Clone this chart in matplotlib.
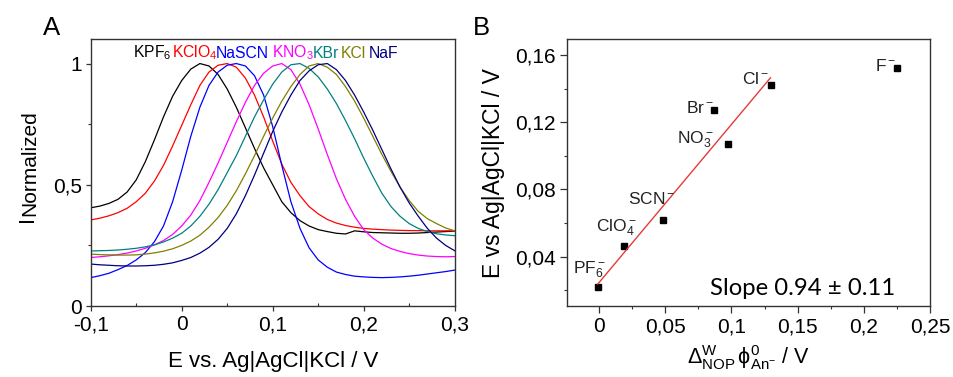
import numpy as np
import matplotlib
matplotlib.use('Agg')
import matplotlib.pyplot as plt
from matplotlib.ticker import FixedLocator, FixedFormatter

plt.rcParams['font.family'] = ['Liberation Sans', 'DejaVu Sans']
plt.rcParams['mathtext.fontset'] = 'custom'
plt.rcParams['mathtext.rm'] = 'Liberation Sans'
plt.rcParams['mathtext.it'] = 'Liberation Sans:italic'
plt.rcParams['mathtext.bf'] = 'Liberation Sans:bold'

# ---------------- Panel A data ----------------
E_V = [-0.10, -0.09, -0.08, -0.07, -0.06, -0.05, -0.04, -0.03, -0.02, -0.01,
       0.00, 0.01, 0.02, 0.03, 0.04, 0.05, 0.06, 0.07, 0.08, 0.09,
       0.10, 0.11, 0.12, 0.13, 0.14, 0.15, 0.16, 0.17, 0.18, 0.19,
       0.20, 0.21, 0.22, 0.23, 0.24, 0.25, 0.26, 0.27, 0.28, 0.29, 0.30]

I_KPF6 = [0.405, 0.412, 0.423, 0.440, 0.470, 0.520, 0.595, 0.685, 0.780, 0.865,
          0.930, 0.977, 1.000, 0.990, 0.955, 0.895, 0.820, 0.735, 0.650, 0.570,
          0.500, 0.430, 0.385, 0.352, 0.330, 0.315, 0.307, 0.300, 0.297, 0.310,
          0.306, 0.303, 0.302, 0.301, 0.300, 0.300, 0.301, 0.303, 0.305, 0.307, 0.309]
I_KClO4 = [0.355, 0.362, 0.372, 0.385, 0.403, 0.430, 0.465, 0.515, 0.580, 0.660,
           0.745, 0.830, 0.910, 0.965, 0.993, 1.000, 0.985, 0.940, 0.870, 0.780,
           0.680, 0.585, 0.510, 0.455, 0.410, 0.380, 0.357, 0.342, 0.332, 0.325,
           0.320, 0.317, 0.315, 0.313, 0.312, 0.311, 0.311, 0.310, 0.310, 0.310, 0.310]
I_NaSCN = [0.117, 0.125, 0.135, 0.150, 0.167, 0.190, 0.220, 0.265, 0.330, 0.430,
           0.560, 0.700, 0.820, 0.910, 0.965, 0.993, 1.000, 0.990, 0.950, 0.870,
           0.740, 0.580, 0.430, 0.320, 0.240, 0.190, 0.160, 0.140, 0.130, 0.123,
           0.120, 0.118, 0.117, 0.118, 0.120, 0.123, 0.127, 0.132, 0.137, 0.142, 0.148]
I_KNO3 = [0.200, 0.203, 0.207, 0.212, 0.218, 0.227, 0.238, 0.252, 0.270, 0.295,
          0.330, 0.375, 0.435, 0.510, 0.590, 0.675, 0.760, 0.840, 0.910, 0.960,
          0.990, 1.000, 0.975, 0.915, 0.830, 0.730, 0.625, 0.525, 0.440, 0.370,
          0.315, 0.280, 0.255, 0.237, 0.225, 0.216, 0.210, 0.206, 0.204, 0.203, 0.204]
I_KBr = [0.227, 0.228, 0.229, 0.231, 0.234, 0.238, 0.244, 0.252, 0.264, 0.280,
         0.300, 0.330, 0.370, 0.420, 0.480, 0.550, 0.620, 0.700, 0.780, 0.850,
         0.915, 0.965, 0.995, 1.000, 0.980, 0.945, 0.895, 0.835, 0.765, 0.690,
         0.610, 0.535, 0.465, 0.410, 0.370, 0.340, 0.320, 0.307, 0.298, 0.293, 0.290]
I_KCl = [0.214, 0.212, 0.211, 0.210, 0.210, 0.211, 0.214, 0.219, 0.226, 0.236,
         0.250, 0.268, 0.292, 0.325, 0.365, 0.415, 0.475, 0.545, 0.620, 0.700,
         0.775, 0.845, 0.905, 0.955, 0.990, 1.000, 0.985, 0.955, 0.905, 0.845,
         0.775, 0.700, 0.625, 0.555, 0.490, 0.435, 0.390, 0.360, 0.340, 0.322, 0.310]
I_NaF = [0.173, 0.170, 0.168, 0.166, 0.165, 0.165, 0.166, 0.168, 0.172, 0.178,
         0.188, 0.200, 0.218, 0.242, 0.275, 0.320, 0.380, 0.455, 0.540, 0.630,
         0.720, 0.800, 0.870, 0.930, 0.970, 0.995, 1.000, 0.975, 0.930, 0.870,
         0.800, 0.725, 0.645, 0.565, 0.490, 0.425, 0.370, 0.320, 0.280, 0.250, 0.228]

salt_names = ['KPF$_6$', 'KClO$_4$', 'NaSCN', 'KNO$_3$', 'KBr', 'KCl', 'NaF']
salt_colors = ['#000000', '#ff0000', '#0000ff', '#ff00ff', '#008080', '#808000', '#000080']
salt_curves = [I_KPF6, I_KClO4, I_NaSCN, I_KNO3, I_KBr, I_KCl, I_NaF]

A_xticks = [-0.1, 0.0, 0.1, 0.2, 0.3]
A_xticklabels = ['-0,1', '0', '0,1', '0,2', '0,3']
A_yticks = [0.0, 0.5, 1.0]
A_yticklabels = ['0', '0,5', '1']

# ---------------- Panel B data ----------------
anion_labels = ['PF$_6^-$', 'ClO$_4^-$', 'SCN$^-$', 'NO$_3^-$', 'Br$^-$', 'Cl$^-$', 'F$^-$']
dphi_V = [-0.001, 0.019, 0.048, 0.097, 0.087, 0.1295, 0.2252]
Epeak_V = [0.022, 0.0465, 0.0616, 0.107, 0.127, 0.142, 0.152]
fit_slope = 0.94
fit_intercept = 0.0247
fit_n = 6  # fit uses all anions except F-

B_xticks = [0.0, 0.05, 0.1, 0.15, 0.2, 0.25]
B_xticklabels = ['0', '0,05', '0,1', '0,15', '0,2', '0,25']
B_yticks = [0.04, 0.08, 0.12, 0.16]
B_yticklabels = ['0,04', '0,08', '0,12', '0,16']

# ---------------- Figure ----------------
W, H = 954, 377
fig = plt.figure(figsize=(W / 100, H / 100), dpi=100)

def px_axes(l, t, r, b):
    return [l / W, (H - b) / H, (r - l) / W, (b - t) / H]

axA = fig.add_axes(px_axes(90.7, 39.3, 454.7, 306))
axB = fig.add_axes(px_axes(566.7, 39.3, 930, 306))

spine_col = '#333333'
for ax in (axA, axB):
    for s in ax.spines.values():
        s.set_linewidth(1.0)
        s.set_color(spine_col)

# Panel A
for y, c in zip(salt_curves, salt_colors):
    axA.plot(E_V, y, color=c, lw=0.9, solid_joinstyle='round')
axA.set_xlim(-0.1, 0.3)
axA.set_ylim(0, 1.1)
axA.xaxis.set_major_locator(FixedLocator(A_xticks))
axA.xaxis.set_major_formatter(FixedFormatter(A_xticklabels))
axA.xaxis.set_minor_locator(FixedLocator([-0.05, 0.05, 0.15, 0.25]))
axA.yaxis.set_major_locator(FixedLocator(A_yticks))
axA.yaxis.set_major_formatter(FixedFormatter(A_yticklabels))
axA.yaxis.set_minor_locator(FixedLocator([0.25, 0.75]))
axA.tick_params(which='major', direction='out', length=3.5, width=0.9, labelsize=15, pad=3, color=spine_col)
axA.tick_params(axis='x', which='minor', direction='in', length=2.5, width=0.8, color=spine_col)
axA.tick_params(axis='y', which='minor', direction='out', length=2.5, width=0.8, color=spine_col)
axA.set_xlabel('E vs. Ag|AgCl|KCl / V', fontsize=16, labelpad=12)

legend_x = [-0.0535, -0.0107, 0.0377, 0.0993, 0.1443, 0.1750, 0.2058]
for name, c, xx in zip(salt_names, salt_colors, legend_x):
    axA.text(xx, 1.0247, name, color=c, fontsize=11.3, ha='left', va='baseline')

fig.text(33.3 / W, (H - 222) / H, 'I', rotation=90, rotation_mode='anchor',
         ha='left', va='baseline', fontsize=15.5)
fig.text(35.5 / W, (H - 216) / H, 'Normalized', rotation=90, rotation_mode='anchor',
         ha='left', va='baseline', fontsize=15)

fig.text(43 / W, (H - 35) / H, 'A', fontsize=18.5, ha='left', va='baseline')
fig.text(473 / W, (H - 35) / H, 'B', fontsize=18.5, ha='left', va='baseline')

# Panel B
axB.plot(dphi_V, Epeak_V, linestyle='none', marker='s', ms=4.5, color='black')
fx = np.array([min(dphi_V[:fit_n]), max(dphi_V[:fit_n])])
axB.plot(fx, fit_intercept + fit_slope * fx, color='#e23b3b', lw=1.0)
axB.set_xlim(-0.0245, 0.25)
axB.set_ylim(0.0107, 0.1693)
axB.xaxis.set_major_locator(FixedLocator(B_xticks))
axB.xaxis.set_major_formatter(FixedFormatter(B_xticklabels))
axB.xaxis.set_minor_locator(FixedLocator([-0.025, 0.025, 0.075, 0.125, 0.175, 0.225]))
axB.yaxis.set_major_locator(FixedLocator(B_yticks))
axB.yaxis.set_major_formatter(FixedFormatter(B_yticklabels))
axB.yaxis.set_minor_locator(FixedLocator([0.02, 0.06, 0.10, 0.14]))
axB.tick_params(which='major', direction='out', length=5, width=0.9, labelsize=15, pad=3, color=spine_col)
axB.tick_params(which='minor', direction='out', length=2.5, width=0.8, color=spine_col)
axB.set_ylabel('E vs Ag|AgCl|KCl / V', fontsize=16.5, labelpad=7)
axB.set_xlabel(r'$\Delta^{\mathrm{W}}_{\mathrm{NOP}}\,\mathrm{\phi}^{0}_{\mathrm{An}^{-}}$ / V',
               fontsize=15.5, labelpad=5)

label_pos = [(-0.0199, 0.0301), (-0.0025, 0.0549), (0.0221, 0.0713), (0.0587, 0.1075),
             (0.0655, 0.1253), (0.1079, 0.1426), (0.2081, 0.1505)]
for lab, (lx, ly) in zip(anion_labels, label_pos):
    axB.text(lx, ly, lab, fontsize=12.5, ha='left', va='baseline', color='#222222')

axB.text(0.0834, 0.0172, 'Slope 0.94 \u00b1 0.11', fontsize=17.2, family=['Lato', 'DejaVu Sans'],
         ha='left', va='baseline', color='black')

fig.savefig('out.png', dpi=100)
